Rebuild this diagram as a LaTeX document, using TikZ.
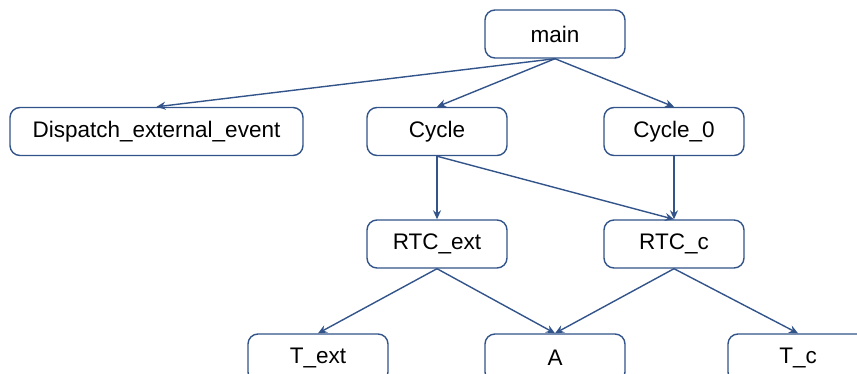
\documentclass[tikz,border=0pt]{standalone}
\usepackage{fontspec}
\setmainfont{Liberation Sans}
\usetikzlibrary{arrows.meta}
\definecolor{lineblue}{RGB}{50,84,138}
\tikzset{
  box/.style={draw=lineblue, line width=1.4pt, rounded corners=10pt, fill=white,
    minimum width=140pt, minimum height=48pt, inner sep=0pt,
    font=\fontsize{22.5}{27}\selectfont},
  conn/.style={draw=lineblue, line width=1.4pt,
    -{Stealth[length=9pt,width=8pt,inset=3pt]}}
}
\begin{document}
\begin{tikzpicture}[x=1pt,y=-1pt]
\useasboundingbox (0,0) rectangle (857,374);
\clip (0,0) rectangle (857,374);
\node[box] (main) at (555,34) {main};
\node[box, minimum width=293pt] (disp) at (156.5,131.5) {Dispatch\_external\_event};
\node[box] (cycle) at (437,131.5) {Cycle};
\node[box] (cycle0) at (674,131.5) {Cycle\_0};
\node[box] (rtcext) at (437,244) {RTC\_ext};
\node[box] (rtcc) at (674,244) {RTC\_c};
\node[box] (text) at (318,358) {T\_ext};
\node[box] (a) at (555,358) {A};
\node[box] (tc) at (798,358) {T\_c};
\draw[conn] (main.south) -- (disp.north);
\draw[conn] (main.south) -- (cycle.north);
\draw[conn] (main.south) -- (cycle0.north);
\draw[conn] (cycle.south) -- (rtcext.north);
\draw[conn] (cycle.south) -- (rtcc.north);
\draw[conn] (cycle0.south) -- (rtcc.north);
\draw[conn] (rtcext.south) -- (text.north);
\draw[conn] (rtcext.south) -- (a.north);
\draw[conn] (rtcc.south) -- (a.north);
\draw[conn] (rtcc.south) -- (tc.north);
\end{tikzpicture}
\end{document}
